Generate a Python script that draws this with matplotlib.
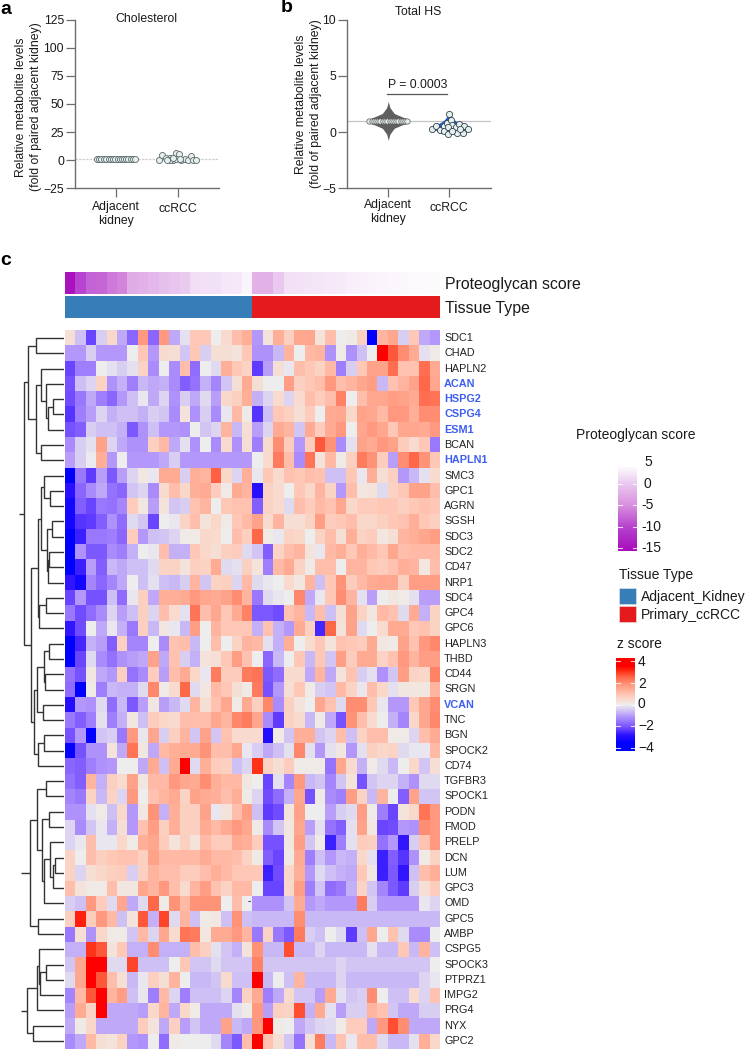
import matplotlib
matplotlib.use("Agg")
import matplotlib.pyplot as plt
import numpy as np
from matplotlib.colors import LinearSegmentedColormap
from matplotlib.patches import Rectangle
from matplotlib.transforms import ScaledTranslation

plt.rcParams['font.family'] = ['Liberation Sans', 'DejaVu Sans']

W, H = 746, 1049

# ---------- panel a / b data ----------
categories = ["Adjacent\nkidney", "ccRCC"]
chol_adj_x = [-0.30, -0.265, -0.23, -0.19, -0.15, -0.115, -0.08, -0.045, -0.01, 0.03, 0.065, 0.10, 0.135, 0.17, 0.205, 0.24, 0.275, 0.31]
chol_adj_y = [1.0] * 18
chol_rcc_x = [-0.30, -0.26, -0.19, -0.12, -0.08, -0.03, 0.02, -0.02, 0.06, 0.11, 0.16, 0.22, 0.24, 0.30, -0.13, -0.07, 0.04, -0.18]
chol_rcc_y = [0.6, 4.5, 2.1, 2.4, 0.1, 6.6, 5.3, 0.8, 0.1, 0.7, 0.6, 3.6, 0.6, 0.6, 0.1, 2.4, 1.5, 0.6]
hs_adj_x = [-0.31, -0.275, -0.24, -0.205, -0.165, -0.13, -0.09, -0.055, -0.02, 0.02, 0.055, 0.09, 0.13, 0.165, 0.205, 0.24, 0.275, 0.31]
hs_adj_y = [1.0] * 18
hs_rcc_x = [-0.29, -0.224, -0.158, -0.093, -0.082, -0.038, 0.033, 0.05, -0.016, 0.104, 0.164, 0.235, 0.30, -0.027, 0.12, 0.23, 0.175, 0.04, 0.0]
hs_rcc_y = [0.26, 0.50, 0.20, 0.55, 0.14, 0.85, 1.06, 0.61, 0.41, 0.41, 0.70, 0.55, 0.32, -0.13, -0.04, -0.04, 0.26, 0.11, 1.65]
violin_adj_y = [-0.73, -0.2, 0.11, 0.35, 0.56, 0.76, 0.88, 1.0, 1.12, 1.24, 1.44, 1.65, 1.89, 2.2, 2.73]
violin_adj_w = [0.0, 0.025, 0.065, 0.10, 0.19, 0.28, 0.32, 0.34, 0.32, 0.28, 0.19, 0.10, 0.065, 0.025, 0.0]
violin_rcc_y = [-0.25, -0.05, 0.15, 0.3, 0.5, 0.7, 0.9, 1.1, 1.3, 1.5, 1.8]
violin_rcc_w = [0.0, 0.10, 0.22, 0.30, 0.28, 0.20, 0.13, 0.08, 0.05, 0.03, 0.0]
chol_ticks = [-25, 0, 25, 50, 75, 100, 125]
hs_ticks = [-5, 0, 5, 10]

# ---------- heat map data ----------
genes = ["SDC1", "CHAD", "HAPLN2", "ACAN", "HSPG2", "CSPG4", "ESM1", "BCAN", "HAPLN1", "SMC3", "GPC1", "AGRN",
         "SGSH", "SDC3", "SDC2", "CD47", "NRP1", "SDC4", "GPC4", "GPC6", "HAPLN3", "THBD", "CD44", "SRGN", "VCAN",
         "TNC", "BGN", "SPOCK2", "CD74", "TGFBR3", "SPOCK1", "PODN", "FMOD", "PRELP", "DCN", "LUM", "GPC3", "OMD",
         "GPC5", "AMBP", "CSPG5", "SPOCK3", "PTPRZ1", "IMPG2", "PRG4", "NYX", "GPC2"]
highlighted = ["ACAN", "HSPG2", "CSPG4", "ESM1", "HAPLN1", "VCAN"]

z_adjacent = [
 [.4,-.7,-2.5,-.5,.6,-1,-2,2,-2,2,-1,-.2,1,1,0,.5,1.2,1.5],
 [-1.2,-1.2,-.5,-1.2,-1.2,-1.2,0,1,-1.2,.5,.4,-.6,1,-.5,.4,.4,.3,1],
 [-2.5,-1.6,-1.6,0,-.2,-.5,-.2,.7,-1.4,0,-1.4,1.2,-1.9,0,-.3,1.5,1,.7],
 [-2.3,-.7,-.4,.7,-1.3,-.9,-1.6,-.8,-1,-.9,-1.4,-2.1,-1.8,-.9,-1.5,-.6,.4,1.6],
 [-2.4,-1.7,-1,-1.6,-2,-1.2,-.7,-.1,-1,-.4,-1.3,-.5,-1,-.3,-1.1,.6,.8,1.5],
 [-2.7,-1.6,-1.1,-.4,-.9,-.7,-.7,-.9,-.5,-.6,-1.4,.3,-1.3,-.5,-1.4,-.1,1.3,.1],
 [-2.3,-2.1,-.5,-.7,-.7,-.9,-2.2,-1.3,-.7,-1.2,-1.2,-1.3,0,-.6,-.4,1.4,-.8,.4],
 [-1.4,-.5,-.2,1.8,-.4,-1,-1.3,-1.3,.8,1.3,-1,-.2,-1.3,0,-1.4,.5,-1.3,.4],
 [-1.1,-.5,-.05,1.5,-1.2,0,-1.2,-1.2,-1.2,-1,-.5,-1.2,-1.2,-1.2,-1.2,-1.2,-1.2,-1.2],
 [-4,-1.7,-2.6,-1.1,-2.2,-1.1,-.4,.2,-.1,1.6,1.6,-.5,1.5,1.4,2.9,.6,-.4,1.5],
 [-3.2,-2,-1.4,-1,-1.8,-2,-.6,-.4,-1.4,.5,1.2,.6,1.5,1.6,.9,.1,1.6,1.4],
 [-3.6,-2.1,-2.5,-1.7,-1.8,-1.5,.9,.2,-1.1,.3,-.6,-.5,1.1,1.4,0,1,1.1,1.1],
 [-3.6,-2.7,-2.6,-2.1,-1.3,-1.9,-.3,-.6,-2.5,0,-.1,.7,1.2,.3,.6,.1,1,1.3],
 [-4,-3,-1.7,-1.7,-1.6,-2,.9,-1.2,-.7,-.6,-.4,.1,.1,.6,.5,0,1.2,.8],
 [-4,-1.3,-2.2,-2.2,-1.4,-1.6,-.9,0,-.1,1.2,-.9,-.9,1,.6,.4,.8,.9,-.3],
 [-4,-3,-1.1,-2.1,-.8,-1,-.7,-.7,-.3,.7,.7,.3,.8,.7,1.6,-.3,-.2,.8],
 [-3.1,-3.6,-1.5,-2,-1.5,-1,0,-.7,-.2,-.7,-.8,-.5,1.4,-.6,.7,.8,-.4,1.3],
 [-2.5,-1.2,-2.3,-2.3,-.7,-1.9,-.1,.8,-1,1.5,1.5,1.6,2,1.7,1.6,1.8,2.2,1.4],
 [-1.7,-2.4,-1.9,-1.4,-.4,-1.1,-.7,.8,-.4,1.2,.5,-.2,2.6,1.2,1.7,1,1.6,2.4],
 [-3.1,-2.4,0,-1,-.1,-.9,-1.7,.8,-.8,.2,-.1,-.8,1.9,0,1.4,1,1,1],
 [-4,-2.9,-.9,-1.1,-2.1,.8,-1.5,-1.5,0,-1.4,1.1,1.2,-.8,0,1.2,0,.7,1.4],
 [-4,-2.5,-.3,-1.4,-1.8,-1.3,-1.1,-1,1.8,-1,1.1,-.5,-.9,.3,.4,1,1.9,1.1],
 [-1.8,-2.3,.2,-1,-1.2,.8,-1.8,-1.4,.9,-1.1,1.2,1.6,.6,-.1,2.5,.9,.9,2.5],
 [-1.9,-4,.1,-1.6,-.8,-.9,-.9,-.3,2.3,.1,.5,2.8,-.3,.2,1.3,1,.4,.1],
 [-3.3,-1.2,-1.3,-.3,-1.9,-.8,-2.2,-1.1,.2,-1.1,-.8,-.3,1.4,.4,1.1,1.7,.1,1.6],
 [-1.7,-2.1,-1.6,-.2,-1.6,-.9,.2,-.7,.9,.6,.5,1.2,1.2,1.2,1.7,1.4,2.3,2.5],
 [-2.3,-1.2,-3.9,-.6,-.5,-1.7,2,-.1,1.7,-.5,.8,1.4,-.6,1.8,-.6,1.1,.5,.5],
 [-3.9,-2.3,-1.3,-1.3,.3,-1,2.6,.2,-1,1.3,1.5,1.6,1.6,2.1,1.2,1.2,1.7,-.1],
 [-2,-2.1,-1.6,-1.3,-1.2,0,0,-1,1.6,-.7,1.6,4,-.3,1.5,.9,.8,-.7,-.4],
 [-1.8,-2.1,1.4,-.9,.8,.5,1.8,.2,1.3,1.3,2,1.7,1.6,2.2,1.5,1.3,1.3,.2],
 [-1.5,-1.7,.7,-.8,.7,-.4,2,0,1.1,1.4,1.6,.7,1.8,1.6,1.5,1.2,1.5,.1],
 [-1.3,-1.3,-.2,.1,-.7,.6,-1.2,.2,2.1,-.9,1.5,.8,.8,1.8,-.1,.3,1.2,1.9],
 [-.4,-1.4,-.6,-.1,-.9,.4,-1.2,1.1,1.9,.8,1.5,.8,.8,1.6,1.3,1.6,2,1.7],
 [-.4,-.1,1.2,-.1,-.1,.6,.1,1.5,1.7,.9,.3,.8,.3,1.3,.9,.9,1.6,1.5],
 [.7,0,1.2,.8,1,1.1,1.1,.8,1.8,1.3,1.3,1.3,1.3,1.6,1.3,1.3,1.2,.7],
 [.7,-.4,.4,.6,.8,.9,-.5,.8,1.4,1.2,1.2,.9,.9,1.2,1.5,1.3,1,1],
 [1.2,.3,.1,.1,1.2,.2,.2,1.7,1.4,2,1.2,.5,1.4,1.9,1.1,.7,1.3,1.3],
 [-.5,-.7,2,.9,-.3,1.7,-1,-.3,2.8,.1,2.1,1.3,2.1,2.1,2.1,0,1.2,0],
 [.8,3.6,.9,2,1.3,-.7,.3,3,-.9,3.2,-.3,1.4,-.7,.1,.2,-.7,2.1,-.7],
 [-1.7,.4,-1.3,.6,.1,.1,-.6,1.3,-.4,1.7,.5,2.6,2.5,.2,1.6,1.6,2,1.4],
 [-.9,-.9,3.4,3,.3,1,-.9,-.9,2.2,-.9,-.9,-.9,1.2,.8,-.2,-.6,-.9,.3],
 [-.6,1.7,4,4,-.3,-.3,3.2,-.7,-.7,-.7,0,1,-.6,-.6,-.3,-.6,-.6,-.6],
 [-.3,1.7,4,3,1.2,.4,-.8,-.1,.8,.4,1.4,0,-.8,-.8,-.6,.5,-.7,-.7],
 [-1.5,1.3,3,4,1.4,1.9,-.7,-.1,-1.6,1.3,-.4,-1.6,-.7,-.7,-.7,-.4,-1.5,.7],
 [-1.1,1.6,.7,4,-1,-1,-1,-1.1,.6,1.4,-1,.6,.1,-1,-1,-1,-.2,.1],
 [-1,.1,.6,-1,-1,-1,-1,.9,.3,-1,.8,-1.1,-.6,-1,-1,1.8,-.8,-1],
 [-1.4,-1,1.3,.4,.3,.7,-1.2,-1.3,0,-1.9,.1,0,0,0,-.3,-1.5,-2.2,1.2],
]
z_ccrcc = [
 [-1.2,.3,1.5,.8,1.7,1.7,.3,1.2,0,.1,.8,-4,1.4,1.7,-.5,1,-1,-1.2],
 [-1.3,-1.3,-.8,1.4,0,1.3,1.4,-1.3,.1,-1.3,-.7,0,4,3,2.2,1.6,-.2,.1],
 [-2.6,-1.1,.4,-.1,1.2,1,.7,1.3,-1.6,-.5,1,1.8,1.8,2.7,1.1,1.1,2.7,1.6],
 [.4,0,0,1.9,.8,1,1.2,2,1.2,1.4,1.7,1.9,-.8,1.1,1.4,1.8,2.8,1.7],
 [-.9,-.4,.5,-.4,.5,1.2,.9,1.2,2.4,0,1.2,1.7,1.7,1.9,1.8,1.6,2.7,2.6],
 [-2.7,-.7,1,.8,.4,.9,0,1.6,1.7,.6,1.8,1.7,1.3,2,2,1.5,2.2,2.2],
 [-1.1,-.4,1.6,1.4,-.6,1.6,.9,1.6,2,0,1.7,2,1.7,1,1.7,1.7,1.6,2],
 [-1.6,.5,2.2,.9,-1.2,.9,3,2.1,-1.4,-.2,1.8,1.6,2,1.8,.9,.5,1,-1.7],
 [0,.5,2.5,1.2,-1.4,2.6,.3,1.3,.1,.8,2.5,2.1,.9,-1.1,2.2,2.8,2.1,1],
 [-.1,1,.5,1.1,1,1.2,1.1,-.7,-.7,1,-.1,1.5,.4,.8,-1.2,-.8,-.2,.5],
 [-3.2,.7,.5,0,1,.6,1.4,.7,-1.2,1.2,.2,.3,-.3,.7,1,1.8,1.8,1.2],
 [-2.1,.7,.5,-.3,1.2,.9,1.3,1.1,1.7,.6,.9,.9,1,1,.8,1,1.1,1],
 [1.8,.5,1.4,.4,.4,.7,1.9,.9,1,1.2,.6,.6,.8,1,1.1,1.5,1,.8],
 [2.8,.1,-.1,.7,.6,0,.7,1.2,.4,1.5,.7,.9,.2,.4,1.4,1.5,1.7,1.9],
 [-.6,-2.1,.7,1.2,1.4,.3,-.1,1.3,1.5,1,1.5,1.3,1,1.7,1.2,1.3,1.3,1.3],
 [.3,-1.6,1.3,1.6,.7,.1,1.2,1.2,0,1.4,1.4,1,.9,1.1,1.5,1.4,.2,1.2],
 [-.3,-.1,0,.5,.2,1.4,-.7,1,2.1,.9,1.3,1.6,1.7,1.7,.8,1.9,1.9,1.9],
 [-1.7,-.3,-.1,0,2.3,-1,-.1,1,2.2,1.4,-.2,-1.1,0,.2,.1,-.2,-1.1,-1.1],
 [-2.2,-2.2,-2.4,1.1,1.4,-.8,1.2,-.7,.4,1.8,.7,.2,1.3,1.1,-.3,1.6,-.9,.7],
 [-.9,1.1,-.9,-1.2,1.6,.8,-2.9,2.8,.3,1.8,-.3,0,.5,1.6,1.6,1,1.1,.7],
 [1.3,-.2,-.9,1.5,0,.5,1,.3,1.1,1,.9,1.6,.2,.1,1.8,1.1,2,2.3],
 [0,-2,-.8,0,1,-.8,1,-.6,1.9,.9,1.6,1.6,.7,1.1,2,1.4,1.9,1.9],
 [2.6,-2.2,-1.9,.5,.5,-1,1.4,-1,.3,1.1,-.5,-.2,-1.3,-.6,1.9,.7,.6,2.4],
 [2.5,-2.3,-1.2,.4,1,.1,-.5,-.6,1.3,.7,-.1,1.2,.6,-.2,.2,.2,.2,1.4],
 [.8,2.3,-1.4,.8,.3,0,1.7,1.1,-.3,2.2,2.2,1,-.1,-1.2,-1.2,1,1.7,2.2],
 [1.7,-1.4,-2.6,.7,.5,-.8,.1,-1,-2.3,2.1,1.2,.5,0,-.9,-1.5,.6,1.7,2.3],
 [.5,-3.3,.1,-.6,1.5,1.5,-.6,-.4,1.2,-.7,.7,1.2,1.2,.1,.1,-.4,1.2,1.6],
 [-.5,-1,-.7,-.2,2.3,-.2,-1.2,-.2,.2,-1.2,-.2,.8,.6,.7,-.3,-.1,-.1,1.3],
 [3.4,.7,.4,.9,.1,.1,.1,-1.8,1.7,.5,-.9,.1,-.3,-.8,0,.6,-.6,.4],
 [0,-2.5,-.2,-1.5,2,-.8,-.6,-1.5,-.6,.3,-2.3,-.6,-.4,-.4,-.9,-1.3,-.3,-.3],
 [-.4,-2.4,-1.9,-.9,1.7,-2.3,.1,-1.4,-1.6,1.9,.7,-.8,1.4,0,-2.1,1.8,-.6,-.6],
 [-.7,-2.6,-2.4,.3,1.8,0,0,-1.1,-.5,-.3,1.9,.1,-1.6,-2.5,.3,.6,2.6,2],
 [.1,-1.4,-.6,.2,1.7,-1.1,-.2,-1.8,-2.1,-.2,1.8,.2,-2.5,-2.4,-1.2,-1.3,2.2,2],
 [.9,-2.3,-2.3,.2,1.9,-.6,.1,-3,-1.6,-.2,.9,.8,-1.8,-1.2,-3.1,-.5,1.1,2],
 [.1,-2.1,-2.5,.1,1.6,-1.6,-.7,-1.2,-.8,-.9,.6,-.2,-3,-2.1,-2.7,-1.3,.1,.7],
 [1,-3,-2.4,.6,1.5,-1.2,-.3,-.7,-.9,-1,1,.2,-3,-2.2,-3.1,-.7,1.2,1.5],
 [0,-2.5,-2.5,.6,1.9,-1.6,-.6,-1.9,-1.7,-.9,.7,-.6,-1.5,-2.2,-2.6,-.5,.4,.9],
 [-1.3,-1.3,-1.3,-.6,1.6,-1.2,-1,-1.2,-1.2,-1.2,2.5,-.5,-1.2,-1.2,-1.2,-1.2,-.1,-.4],
 [-.8,-.8,-.8,-.8,2.2,-.8,-.8,-.8,-.8,-.8,-.8,-.8,-.8,-.8,-.8,-.8,-.8,-.8],
 [-1.7,.7,-1.7,-2.2,2.5,-.5,-.7,0,-.3,-2.6,-.7,1.7,0,1.1,-.3,-1.4,-1.4,0],
 [2.1,-.8,-.8,3.1,-.8,-.8,-.4,-.8,-.8,-.8,-.8,-.2,-.8,-.8,1,-.8,1.4,-.7],
 [2.4,-.6,-.6,-.6,-.6,-.6,-.6,-.6,-.4,-.6,-.6,-.6,-.6,-.6,-.6,-.6,-.6,0],
 [4,-.8,0,-.7,1.4,-.8,-.8,-.8,-.4,-.8,-.8,-.8,-.8,-.8,-.8,-.8,-.4,-.1],
 [1.6,-1.6,-1,.5,-.6,-.6,-1.1,1.6,-.2,-.6,-.5,2.2,0,-.7,-.7,.5,-.4,1.1],
 [2,-1.1,.8,.7,3.1,-.9,1.6,-.2,-1.1,-.5,-.5,1.4,1.1,-.6,-1,-1,-.5,-.5],
 [2,4,.1,0,-1,-.6,-.4,-.3,.1,.9,.9,-1,2,3.1,2.2,-1,-1,-1],
 [4,1.1,.4,-.6,-1.8,.4,2.5,-.8,1.1,-.1,1.2,1.2,-.3,-.8,-.8,-.2,1.5,.6],
]
score_adjacent = [-15, -10, -8, -7.7, -6.5, -5.8, -2.5, -2, -1.5, -0.7, -0.2, 0.3, 1.7, 1.9, 1.9, 2.4, 2.5, 3.4]
score_ccrcc = [-2, -2, 0.1, 1.9, 2, 2.2, 2.3, 2.5, 2.7, 3, 3.1, 3.3, 3.4, 3.6, 3.7, 3.8, 3.9, 4]
tissue_codes = [0] * 18 + [1] * 18
tissue_names = ["Adjacent_Kidney", "Primary_ccRCC"]
tissue_colors = ["#377EB8", "#E41A1C"]

# dendrogram merges: (height, child, child); integer leaves are row numbers
tree_top = (39.3,
    (36.0, (27.7, 0, 1),
           (27.7, (23.0, 2, (18.0, 3, (15.7, (11.0, 4, 5), 6))), (23.0, 7, 8))),
    (33.0,
     (25.7, (22.3, (20.0, 9, (14.0, 10, 11)),
                   (16.7, (11.7, 12, 13), (15.7, (14.3, 14, 15), 16))),
            (24.3, (17.7, 17, 18), 19)),
     (30.0, (26.7, (20.0, (14.7, 20, 21), (18.3, 22, 23)), (20.7, 24, 25)),
            (26.0, (19.3, 26, 27), 28))))
tree_mid = (34.0,
    (26.7, (18.0, 29, 30),
           (21.7, (15.0, 31, 32),
                  (19.7, (13.7, 33, (11.0, (9.0, 34, 35), 36)), 37))),
    (25.7, 38, 39))
tree_low = (36.7,
    (27.0, (24.3, 40, (23.3, (18.0, 41, 42), 43)), 44),
    (30.3, 45, 46))

# ---------- helpers ----------
fig = plt.figure(figsize=(W / 100, H / 100), dpi=100, facecolor="white")

def px_axes(x0, y0, x1, y1, **kw):
    return fig.add_axes([x0 / W, 1 - y1 / H, (x1 - x0) / W, (y1 - y0) / H], **kw)

def ftext(x, y, s, **kw):
    kw.setdefault("va", "center")
    kw.setdefault("ha", "left")
    kw.setdefault("color", "#1a1a1a")
    return fig.text(x / W, 1 - y / H, s, **kw)

def swarm_panel(box, xlim, ylim, ticks, pad):
    ax = px_axes(*box)
    ax.set_xlim(*xlim)
    ax.set_ylim(*ylim)
    ax.patch.set_alpha(0)
    for s in ("top", "right"):
        ax.spines[s].set_visible(False)
    for s in ("left", "bottom"):
        ax.spines[s].set_color("#6e6e6e")
        ax.spines[s].set_linewidth(1.0)
    ax.set_yticks(ticks)
    ax.set_xticks([0, 1])
    ax.set_xticklabels(categories, linespacing=1.2)
    ax.tick_params(axis="y", length=6.5, width=0.9, color="#6e6e6e", labelsize=8.8,
                   labelcolor="#1a1a1a", pad=1.5)
    ax.tick_params(axis="x", length=6.5, width=0.9, color="#6e6e6e", labelsize=8.8,
                   labelcolor="#1a1a1a", pad=pad)
    lbl = ax.get_xticklabels()[1]
    lbl.set_transform(lbl.get_transform() + ScaledTranslation(0, -2.5 / 100, fig.dpi_scale_trans))
    return ax

# ---------- panel a ----------
axa = swarm_panel((75, 19.7, 219, 188.3), (-0.656, 1.666), (-25, 125), chol_ticks, 2.5)
axa.axhline(1, color="#cfcfcf", lw=0.9, ls=(0, (2, 0.8)), zorder=1)
axa.scatter(np.array(chol_adj_x), chol_adj_y, s=19, fc="#e6eeee", ec="#5a6a6a", lw=0.6, zorder=3, clip_on=False)
axa.scatter(1 + np.array(chol_rcc_x), chol_rcc_y, s=19, fc="#e6eeee", ec="#5a6a6a", lw=0.6, zorder=3, clip_on=False)
ftext(146, 19.5, "Cholesterol", fontsize=8.8, ha="center")
ftext(21, 107, "Relative metabolite levels", fontsize=8.8, rotation=90, ha="center")
ftext(36.5, 107, "(fold of paired adjacent kidney)", fontsize=8.8, rotation=90, ha="center")

# ---------- panel b ----------
axb = swarm_panel((347, 19.7, 490.7, 188.3), (-0.677, 1.679), (-5, 10), hs_ticks, 1.5)
axb.axhline(1, color="#c4c4c4", lw=0.9, zorder=1)
axb.fill_betweenx(violin_adj_y, -np.array(violin_adj_w), violin_adj_w, color="#5f5f5f", lw=0, zorder=2)
axb.fill_betweenx(violin_rcc_y, 1 - np.array(violin_rcc_w), 1 + np.array(violin_rcc_w), color="#2456cf", lw=0, zorder=2)
axb.scatter(np.array(hs_adj_x), hs_adj_y, s=15, fc="#e6eeee", ec="#555555", lw=0.5, zorder=3)
axb.scatter(1 + np.array(hs_rcc_x), hs_rcc_y, s=20, fc="#e6f0f0", ec="#33424a", lw=0.6, zorder=3)
axb.plot([-0.02, 0.96], [3.35, 3.35], color="#555555", lw=0.9, zorder=3)
ftext(418, 85, "P = 0.0003", fontsize=8.8, ha="center")
ftext(418, 11.7, "Total HS", fontsize=8.8, ha="center")
ftext(300.5, 104, "Relative metabolite levels", fontsize=8.8, rotation=90, ha="center")
ftext(315.5, 104, "(fold of paired adjacent kidney)", fontsize=8.8, rotation=90, ha="center")

# ---------- panel letters ----------
ftext(0, 10, "a", fontsize=14, fontweight="bold", color="black")
ftext(280.5, 8, "b", fontsize=14, fontweight="bold", color="black")
ftext(0, 261, "c", fontsize=14, fontweight="bold", color="black")

# ---------- heat map ----------
heat_nodes = [(-4, "#0000ff"), (-3.2, "#2a10ff"), (-2.5, "#6a45ff"), (-2, "#8a66ff"), (-1.2, "#b498fa"),
              (-.7, "#cfc0f5"), (0, "#eeeeee"), (.5, "#f8dccf"), (1, "#ffc8b8"), (1.5, "#ffb09a"), (2, "#ff9a80"),
              (2.5, "#ff7d60"), (3, "#ff5a3c"), (3.5, "#ff2a10"), (4, "#ff0000")]
heat_cmap = LinearSegmentedColormap.from_list("z", [((v + 4) / 8, c) for v, c in heat_nodes])
score_nodes = [(-15.7, "#a80cbc"), (-12, "#b030c8"), (-10, "#b845cf"), (-5, "#d890de"), (0, "#e9c8ef"),
               (3.9, "#fdfafe"), (5, "#ffffff")]
score_cmap = LinearSegmentedColormap.from_list("s", [((v + 15.7) / 20.7, c) for v, c in score_nodes])
tissue_cmap = LinearSegmentedColormap.from_list("t", tissue_colors, N=2)

hm_x0, hm_x1, hm_y0, hm_y1 = 65, 440, 330.4, 1048.6
z = np.hstack([np.array(z_adjacent), np.array(z_ccrcc)])
axh = px_axes(hm_x0, hm_y0, hm_x1, hm_y1)
axh.imshow(z, cmap=heat_cmap, vmin=-4, vmax=4, aspect="auto", interpolation="nearest")
axh.axis("off")
for i, g in enumerate(genes):
    hl = g in highlighted
    axh.text(35.5 + 0.39, i, g, fontsize=7.8, va="center", ha="left",
             color="#3d5ef0" if hl else "#222222", fontweight="bold" if hl else "normal", clip_on=False)

axs = px_axes(hm_x0, 272, hm_x1, 294)
axs.imshow(np.array([score_adjacent + score_ccrcc]), cmap=score_cmap, vmin=-15.7, vmax=5, aspect="auto", interpolation="nearest")
axs.axis("off")
axt = px_axes(hm_x0, 295.5, hm_x1, 317.7)
axt.imshow(np.array([tissue_codes]), cmap=tissue_cmap, vmin=0, vmax=1, aspect="auto", interpolation="nearest")
axt.axis("off")
ftext(445, 285, "Proteoglycan score", fontsize=11.4)
ftext(445, 308, "Tissue Type", fontsize=11.4)
ftext(249, 901.5, "-", fontsize=7, color="black", ha="center")

# ---------- dendrogram ----------
axd = px_axes(0, hm_y0, 63.5, hm_y1)
axd.set_xlim(63.5, 0)
axd.set_ylim(len(genes) - 0.5, -0.5)
axd.axis("off")

def draw(node):
    if isinstance(node, int):
        return 0.0, float(node)
    h, a, b = node
    ha_, ya = draw(a)
    hb, yb = draw(b)
    axd.plot([ha_, h, h, hb], [ya, ya, yb, yb], color="#333333", lw=1.0, solid_joinstyle="miter", solid_capstyle="butt")
    return h, (ya + yb) / 2

for tree, stub in ((tree_top, 44.5), (tree_mid, 42.8), (tree_low, 42.8)):
    rh, ry = draw(tree)
    axd.plot([rh, stub], [ry, ry], color="#333333", lw=1.0, solid_capstyle="butt")

# ---------- legends ----------
ftext(576, 435, "Proteoglycan score", fontsize=10)
axc1 = px_axes(618, 467, 637, 551)
axc1.imshow(np.linspace(3.9, -15.7, 200)[:, None], cmap=score_cmap, vmin=-15.7, vmax=5, aspect="auto",
            extent=(0, 1, -15.7, 3.9))
axc1.axis("off")
score_bar_ticks = [5, 0, -5, -10, -15]
for v in score_bar_ticks:
    if v <= 3.9:
        axc1.plot([0, 0.2], [v, v], color="white", lw=0.8, alpha=0.8)
        axc1.plot([0.8, 1], [v, v], color="white", lw=0.8, alpha=0.8)
for v, yy, xx in zip(score_bar_ticks, [462, 484, 505, 527, 548], [644, 644, 641, 641, 641]):
    ftext(xx, yy, str(v), fontsize=10)

ftext(619, 575, "Tissue Type", fontsize=10)
axleg = px_axes(0, 0, W, H)
axleg.set_xlim(0, W)
axleg.set_ylim(H, 0)
axleg.axis("off")
axleg.patch.set_alpha(0)
for (name, col, y0) in zip(tissue_names, tissue_colors, (588, 606)):
    axleg.add_patch(Rectangle((619, y0), 17, 16, fc=col, ec="#e8e8e8", lw=0.4))
    ftext(641, y0 + 9, name, fontsize=10)

ftext(617, 644, "z score", fontsize=10)
axc2 = px_axes(616, 658, 635, 751)
axc2.imshow(np.linspace(4.3, -4.3, 200)[:, None], cmap=heat_cmap, vmin=-3.6, vmax=3.6, aspect="auto",
            extent=(0, 1, -4.3, 4.3))
axc2.axis("off")
z_bar_ticks = [4, 2, 0, -2, -4]
for v in z_bar_ticks:
    axc2.plot([0, 0.2], [v, v], color="white", lw=0.8, alpha=0.8)
    axc2.plot([0.8, 1], [v, v], color="white", lw=0.8, alpha=0.8)
for v, yy in zip(z_bar_ticks, [662, 684, 704, 726, 748]):
    ftext(638, yy, str(v).replace("-", "\u2212"), fontsize=10)

fig.savefig("out.png", dpi=100)
